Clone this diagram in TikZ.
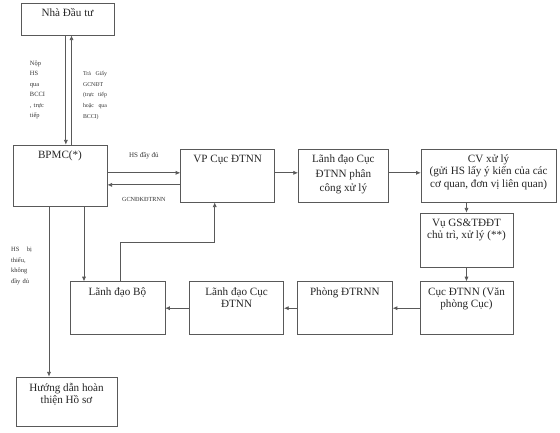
\documentclass[tikz,border=0pt]{standalone}
\usepackage{fontspec}
\setmainfont{Liberation Serif}
\usepackage{tikz}
\usetikzlibrary{arrows.meta, positioning}

\begin{document}
\begin{tikzpicture}[
    stepbox/.style={draw=black!65, line width=0.6pt, minimum height=1.59cm, inner sep=0pt},
    boxtext/.style={align=center, font=\fontsize{9.5}{10.5}\selectfont, text=black!85, inner sep=1pt},
    note/.style={align=left, font=\fontsize{5.5}{9}\selectfont, text=black!80, inner sep=1pt},
    flow/.style={-{Latex[length=4pt,width=3.5pt]}, draw=black!65, line width=0.6pt}]

    \fill[white] (0,0) rectangle (16.8,-12.99);
    \useasboundingbox (0,0) rectangle (16.8,-12.99);

    % Investor and one-stop desk - left side
    \node[stepbox, minimum width=2.79cm, minimum height=0.96cm] (inv) at (2.025,-0.57) {};
    \node[boxtext, below=4pt of inv.north] (inv-t) {Nhà Đầu tư};
    \node[stepbox, minimum width=2.82cm, minimum height=1.83cm] (bpmc) at (1.8,-5.265) {};
    \node[boxtext, below=4pt of bpmc.north] (bpmc-t) {BPMC(*)};

    % Top row
    \node[stepbox, minimum width=2.82cm, right=2.19cm of bpmc] (vp) {};
    \node[boxtext, below=4pt of vp.north] (vp-t) {VP Cục ĐTNN};
    \node[stepbox, minimum width=2.7cm, right=0.69cm of vp] (ldcuc) {};
    \node[boxtext, below=4pt of ldcuc.north] (ldcuc-t) {Lãnh đạo Cục\\[2pt]ĐTNN phân\\[2pt]công xử lý};
    \node[stepbox, minimum width=4.05cm, right=0.96cm of ldcuc] (cv) {};
    \node[boxtext, below=4pt of cv.north] (cv-t) {CV xử lý\\(gửi HS lấy ý kiến của các\\cơ quan, đơn vị liên quan)};

    % Right column
    \node[stepbox, minimum width=2.79cm, minimum height=1.62cm] (vu) at (13.995,-7.2) {};
    \node[boxtext, below=4pt of vu.north] (vu-t) {Vụ GS\&TĐĐT\\chủ trì, xử lý (**)};
    \node[stepbox, minimum width=2.79cm, below=0.42cm of vu] (cuc) {};
    \node[boxtext, below=4pt of cuc.north] (cuc-t) {Cục ĐTNN (Văn\\phòng Cục)};

    % Bottom row
    \node[stepbox, minimum width=2.85cm, left=0.81cm of cuc] (phong) {};
    \node[boxtext, below=4pt of phong.north] (phong-t) {Phòng ĐTRNN};
    \node[stepbox, minimum width=2.82cm, left=0.39cm of phong] (ldcuc2) {};
    \node[boxtext, below=4pt of ldcuc2.north] (ldcuc2-t) {Lãnh đạo Cục\\ĐTNN};
    \node[stepbox, minimum width=2.85cm, left=0.72cm of ldcuc2] (ldbo) {};
    \node[boxtext, below=4pt of ldbo.north] (ldbo-t) {Lãnh đạo Bộ};
    \node[stepbox, minimum width=3.03cm, minimum height=1.47cm] (hd) at (1.995,-12.045) {};
    \node[boxtext, below=4pt of hd.north] (hd-t) {Hướng dẫn hoàn\\thiện Hồ sơ};

    % Submit / return
    \draw[flow] ([xshift=-0.05cm]inv.south) -- ([xshift=-0.05cm]inv.south |- bpmc.north)
        node[note, midway, left=0.53cm, text width=0.5cm] (nop) {Nộp\\HS\\qua\\BCCI\\, trực\\tiếp};
    \draw[flow] ([xshift=0.12cm]inv.south |- bpmc.north) -- ([xshift=0.12cm]inv.south)
        node[note, pos=0.45, right=0.3cm, text width=0.72cm, font=\fontsize{5}{9}\selectfont] (tra)
        {Trả\hfill Giấy\\GCNĐT\\(trực\hfill tiếp\\hoặc\hfill qua\\BCCI)};

    % BPMC <-> VP
    \draw[flow] ([yshift=0.08cm]bpmc.east) -- ([yshift=0.08cm]bpmc.east -| vp.west)
        node[midway, above=0.3cm, font=\fontsize{6}{7}\selectfont, text=black!80] (hsdd) {HS đầy đủ};
    \draw[flow] ([yshift=-0.28cm]bpmc.east -| vp.west) -- ([yshift=-0.28cm]bpmc.east)
        node[midway, below=0.26cm, font=\fontsize{5.3}{6}\selectfont, text=black!80] (gcn) {GCNĐKĐTRNN};

    % Main flow
    \draw[flow] ([yshift=0.08cm]vp.east) -- ([yshift=0.08cm]vp.east -| ldcuc.west);
    \draw[flow] ([yshift=0.08cm]ldcuc.east) -- ([yshift=0.08cm]ldcuc.east -| cv.west);
    \draw[flow] (cv.south -| vu.north) -- (vu.north);
    \draw[flow] (vu.south) -- (cuc.north);
    \draw[flow] (cuc.west) -- (phong.east);
    \draw[flow] (phong.west) -- (ldcuc2.east);
    \draw[flow] (ldcuc2.west) -- (ldbo.east);
    \draw[flow] ([xshift=0.075cm]ldbo.north) -- ++(0,1.17) -| ([xshift=-0.39cm]vp.south);

    % From BPMC downwards
    \draw[flow] ([xshift=0.72cm]bpmc.south) -- ([xshift=0.72cm]bpmc.south |- ldbo.north);
    \draw[flow] ([xshift=-0.33cm]bpmc.south) -- ([xshift=-0.33cm]bpmc.south |- hd.north)
        node[note, pos=0.35, left=0.47cm, text width=0.62cm] (thieu) {HS\hfill bị\\thiếu,\\không\\đầy đủ};
\end{tikzpicture}
\end{document}
